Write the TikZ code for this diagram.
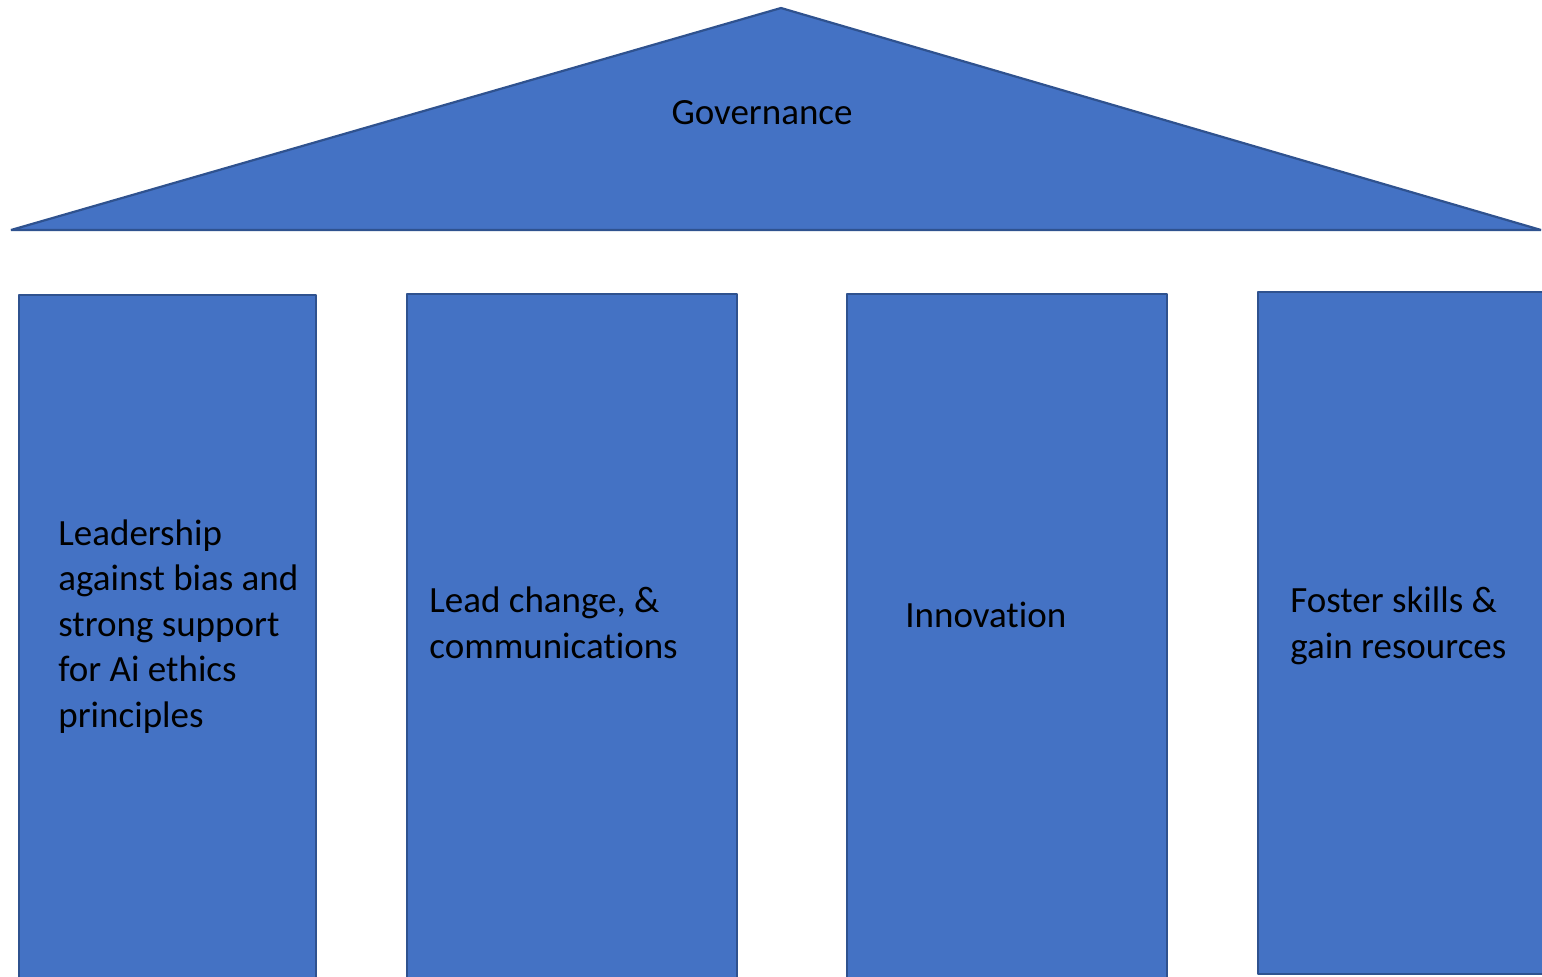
\documentclass[tikz,border=0pt]{standalone}
\usepackage{fontspec}
\setmainfont{Carlito}[Ligatures=NoCommon]
\definecolor{pfill}{HTML}{4472C4}
\definecolor{pline}{HTML}{2F528F}
\begin{document}
\begin{tikzpicture}[x=0.5pt,y=-0.5pt,
  block/.style={fill=pfill,draw=pline,line width=1.1pt,line join=bevel},
  label/.style={inner sep=0pt,anchor=base west,align=left,font=\fontsize{18.5}{22.75}\selectfont,text=black}]
\useasboundingbox (0,0) rectangle (1542,976);
\clip (0,0) rectangle (1542,976);
\fill[white] (0,0) rectangle (1542,976);
% roof
\draw[block] (11,230) -- (781,8) -- (1541,230) -- cycle;
\node[label,anchor=base] (gov) at (762,124) {Governance};
% pillars
\draw[block] (19,990) -- (19,295) -- (316,295) -- (316,990);
\draw[block] (407,990) -- (407,294) -- (737,294) -- (737,990);
\draw[block] (847,990) -- (847,294) -- (1167,294) -- (1167,990);
\draw[block] (1258,974) -- (1258,292) -- (1560,292) -- (1560,974) -- cycle;
\node[label] (p1) at (58,727) {Leadership\\against bias and\\strong support\\for Ai ethics\\principles};
\node[label] (p2) at (429,658) {Lead change, \&\\communications};
\node[label] (p3) at (905,627) {Innovation};
\node[label] (p4) at (1290,658) {Foster skills \&\\gain resources};
\end{tikzpicture}
\end{document}
